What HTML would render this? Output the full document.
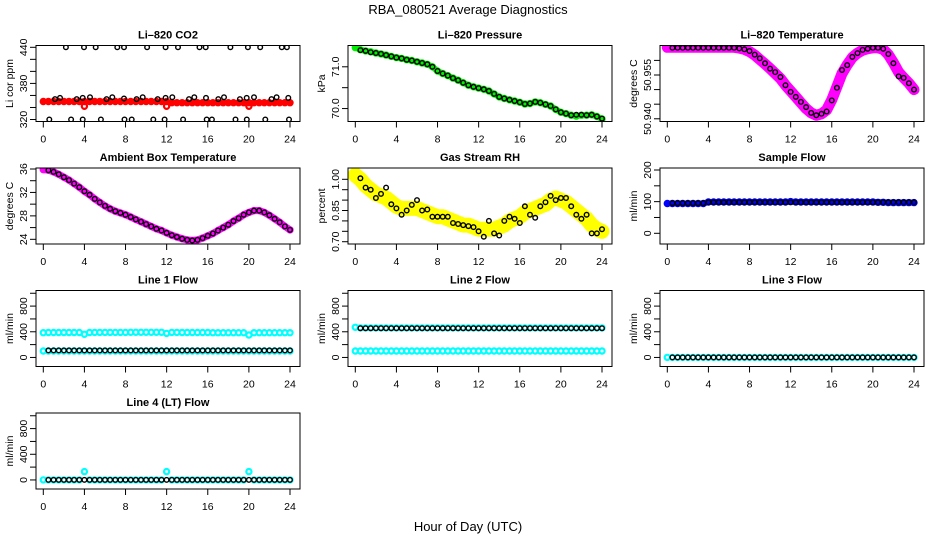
<!DOCTYPE html>
<html><head><meta charset="utf-8"><style>
html,body{margin:0;padding:0;background:#fff;}
svg{display:block;font-family:"Liberation Sans",Arial,sans-serif;}
</style></head><body>
<svg id="chart" width="936" height="540" viewBox="0 0 936 540" xmlns="http://www.w3.org/2000/svg">
<text x="468" y="14" font-size="13" text-anchor="middle">RBA_080521  Average Diagnostics</text>
<text x="468" y="531" font-size="13" text-anchor="middle">Hour of Day (UTC)</text>
</svg>
<script>
const blackHours = [0.5,1,1.5,2,2.5,3,3.5,4,4.5,5,5.5,6,6.5,7,7.5,8,8.5,9,9.5,10,10.5,11,11.5,12,12.5,13,13.5,14,14.5,15,15.5,16,16.5,17,17.5,18,18.5,19,19.5,20,20.5,21,21.5,22,22.5,23,23.5,24];
const colorHours = [0,0.5,1,1.5,2,2.5,3,3.5,4,4.5,5,5.5,6,6.5,7,7.5,8,8.5,9,9.5,10,10.5,11,11.5,12,12.5,13,13.5,14,14.5,15,15.5,16,16.5,17,17.5,18,18.5,19,19.5,20,20.5,21,21.5,22,22.5,23,23.5,24];
const xTicks = [0,4,8,12,16,20,24];

// CO2
const co2Red = [350,350,350,350,350,350,350,350,350,350,350,350,350,350,350,350,350,350,350,350,350,350,350,350,350,348,348,348,348,348,348,348,348,348,348,348,348,348,348,348,348,348,348,348,348,348,348,348,348];
const co2RedOutHours = [4,12,20];
const co2RedOutValues = [342,342,342];
const co2HighHours = [2.2,3.96,5.1,7.2,7.85,10.1,11.9,13.1,15.2,15.8,18.2,19.9,21.1,23.2,23.7];
const co2LowHours = [0.58,2.7,3.83,5.6,7.9,8.6,10.7,11.8,13.6,15.9,16.4,18.7,19.8,21.6,23.9];
const co2MidHours = [1.14,1.62,3.25,3.83,4.54,6.16,6.71,7.85,9.08,9.67,11.13,11.9,12.55,14.17,14.69,15.83,17.02,17.58,19.13,19.79,20.5,22.2,22.7,23.83];
const co2MidValues = [354,356,354,356,357,354,357,355,354,357,354,356,357,354,357,356,354,357,354,356,357,354,357,356];

// Pressure
const pressGreen = [71.46,71.41,71.38,71.36,71.33,71.31,71.28,71.25,71.22,71.20,71.17,71.15,71.12,71.09,71.06,71.00,70.90,70.84,70.79,70.73,70.68,70.62,70.56,70.52,70.49,70.46,70.42,70.35,70.28,70.24,70.21,70.18,70.15,70.11,70.12,70.16,70.14,70.10,70.06,69.98,69.91,69.88,69.84,69.82,69.84,69.84,69.85,69.81,69.75];
const pressBlack = [71.40,71.38,71.35,71.33,71.31,71.28,71.25,71.22,71.20,71.17,71.15,71.12,71.09,71.06,71.00,70.90,70.84,70.79,70.73,70.68,70.62,70.56,70.52,70.49,70.46,70.42,70.35,70.28,70.24,70.21,70.18,70.15,70.11,70.12,70.16,70.14,70.10,70.06,69.98,69.91,69.88,69.84,69.85,69.85,69.84,69.85,69.81,69.76];

// Li-820 temperature
const tempMag = [50.9645,50.9645,50.9645,50.9645,50.9645,50.9645,50.9645,50.9645,50.9645,50.9645,50.9645,50.9645,50.9645,50.9645,50.9642,50.9638,50.9630,50.9618,50.9603,50.9588,50.9572,50.9555,50.9538,50.9515,50.9495,50.9475,50.9455,50.9435,50.9420,50.9412,50.9417,50.9430,50.9465,50.9510,50.9555,50.9585,50.9610,50.9625,50.9635,50.9640,50.9643,50.9643,50.9638,50.9620,50.9592,50.9560,50.9540,50.9522,50.9500];
const tempBlack = [50.9643,50.9643,50.9643,50.9643,50.9643,50.9643,50.9643,50.9643,50.9643,50.9643,50.9643,50.9643,50.9643,50.9641,50.9638,50.9632,50.9620,50.9607,50.9590,50.9572,50.9560,50.9543,50.9515,50.9492,50.9475,50.9458,50.9440,50.9420,50.9412,50.9417,50.9425,50.9463,50.9506,50.9567,50.9584,50.9612,50.9625,50.9636,50.9640,50.9643,50.9643,50.9640,50.9622,50.9590,50.9545,50.9540,50.9522,50.9500];

// Ambient
const ambMag = [35.9,35.8,35.5,35.1,34.6,34.1,33.5,32.9,32.2,31.6,30.9,30.3,29.7,29.2,28.8,28.5,28.2,27.8,27.4,27.0,26.6,26.2,25.8,25.5,25.1,24.7,24.4,24.1,23.9,23.8,23.9,24.2,24.6,25.0,25.5,26.0,26.5,27.1,27.6,28.2,28.6,28.9,28.9,28.6,28.1,27.5,26.9,26.2,25.6];
const ambBlack = [35.8,35.5,35.1,34.6,34.1,33.5,32.9,32.2,31.6,30.9,30.3,29.7,29.2,28.8,28.5,28.2,27.8,27.4,27.0,26.6,26.2,25.8,25.5,25.1,24.7,24.4,24.1,23.9,23.8,23.9,24.2,24.6,25.0,25.5,26.0,26.5,27.1,27.6,28.2,28.6,28.9,28.9,28.6,28.1,27.5,26.9,26.2,25.6];

// RH
const rhYellow = [1.02,1.00,0.97,0.95,0.93,0.92,0.91,0.89,0.87,0.86,0.86,0.86,0.86,0.85,0.84,0.83,0.82,0.82,0.81,0.80,0.79,0.78,0.78,0.77,0.76,0.76,0.76,0.76,0.77,0.78,0.80,0.81,0.82,0.84,0.85,0.86,0.87,0.88,0.90,0.91,0.90,0.89,0.87,0.85,0.83,0.81,0.78,0.76,0.75];
const rhBlack = [1.005,0.96,0.95,0.91,0.93,0.96,0.88,0.86,0.83,0.85,0.877,0.90,0.85,0.855,0.82,0.82,0.82,0.82,0.79,0.785,0.78,0.775,0.77,0.75,0.724,0.80,0.74,0.73,0.80,0.82,0.81,0.79,0.87,0.83,0.815,0.87,0.89,0.92,0.90,0.91,0.91,0.87,0.83,0.81,0.83,0.74,0.74,0.76];

// Sample flow
const sampleBlue = [94,94,94,94,94,94,94,94,99,99,99,99,99,99,99,99,99,99,99,99,99,99,99,99,100,99,99,99,99,99,99,99,99,99,99,99,99,99,99,99,99,98,98,97,97,97,97,97,97];
const sampleBlack = [95,95,95,95,95,95,95,98,98,98,98,98,98,98,98,98,98,98,98,98,98,98,98,98,98,98,98,98,98,98,98,98,98,98,98,98,98,98,98,98,98,98,98,98,98,98,98,98];

// Line flows
const line1CyanHigh = [385,388,388,388,388,388,388,388,360,388,390,390,390,390,390,390,390,392,392,392,392,392,392,392,375,390,390,388,388,388,388,388,388,386,386,386,386,386,386,386,350,386,386,386,386,386,386,386,386];
const line1CyanLow = [100,100,100,100,100,100,100,100,100,100,100,100,100,100,100,100,100,100,100,100,100,100,100,100,100,100,100,100,100,100,100,100,100,100,100,100,100,100,100,100,100,100,100,100,100,100,100,100,100];
const line1Black = [110,110,110,110,110,110,110,110,110,110,110,110,110,110,110,110,110,110,110,110,110,110,110,110,110,110,110,110,110,110,110,110,110,110,110,110,110,110,110,110,110,110,110,110,110,110,110,110];
const line2CyanHigh = [470,460,460,460,460,460,460,460,460,460,460,460,460,460,460,460,460,460,460,460,460,460,460,460,460,460,460,460,460,460,460,460,460,460,460,460,460,460,460,460,460,460,460,460,460,460,460,460,460];
const line2CyanLow = [100,100,100,100,100,100,100,100,100,100,100,100,100,100,100,100,100,100,100,100,100,100,100,100,100,100,100,100,100,100,100,100,100,100,100,100,100,100,100,100,100,100,100,100,100,100,100,100,100];
const line2Black = [455,455,455,455,455,455,455,455,455,455,455,455,455,455,455,455,455,455,455,455,455,455,455,455,455,455,455,455,455,455,455,455,455,455,455,455,455,455,455,455,455,455,455,455,455,455,455,455];
const line3Cyan = [0,0,0,0,0,0,0,0,0,0,0,0,0,0,0,0,0,0,0,0,0,0,0,0,0,0,0,0,0,0,0,0,0,0,0,0,0,0,0,0,0,0,0,0,0,0,0,0,0];
const line3Black = [0,0,0,0,0,0,0,0,0,0,0,0,0,0,0,0,0,0,0,0,0,0,0,0,0,0,0,0,0,0,0,0,0,0,0,0,0,0,0,0,0,0,0,0,0,0,0,0];
const line4Cyan = [0,0,0,0,0,0,0,0,130,0,0,0,0,0,0,0,0,0,0,0,0,0,0,0,130,0,0,0,0,0,0,0,0,0,0,0,0,0,0,0,130,0,0,0,0,0,0,0,0];
const line4Black = [0,0,0,0,0,0,0,0,0,0,0,0,0,0,0,0,0,0,0,0,0,0,0,0,0,0,0,0,0,0,0,0,0,0,0,0,0,0,0,0,0,0,0,0,0,0,0,0];

const flowTicks = [0,200,400,600,800,1000];
const flowLabels = ["0","","400","","800",""];

const svg = document.getElementById('chart');
const NS = 'http://www.w3.org/2000/svg';
function mk(tag, attrs, parent) {
  const e = document.createElementNS(NS, tag);
  for (const k in attrs) e.setAttribute(k, attrs[k]);
  (parent || svg).appendChild(e);
  return e;
}
const rowTops = [45.5, 168, 290.5, 413];
const PH = 76, PW = 264;

const panels = [
  {name:'co2', title:'Li\u2013820 CO2', ylab:'Li cor ppm', r:0, c:0, dom:[316.7,443], ticks:[320,340,360,380,400,420,440], labels:["320","","","380","","","440"],
   series:[{h:colorHours, v:co2Red, col:'#ff0000', w:5},{h:co2RedOutHours, v:co2RedOutValues, col:'#ff0000', w:0},
           {h:co2HighHours, v:co2HighHours.map(()=>440), col:'#000', black:true},{h:co2LowHours, v:co2LowHours.map(()=>320), col:'#000', black:true},
           {h:co2MidHours, v:co2MidValues, col:'#000', black:true}]},
  {name:'pressure', title:'Li\u2013820 Pressure', ylab:'kPa', r:0, c:1, dom:[69.69,71.51], ticks:[70.0,70.5,71.0], labels:["70.0","","71.0"],
   series:[{h:colorHours, v:pressGreen, col:'#00ee00', w:6},{h:blackHours, v:pressBlack, col:'#000', black:true}]},
  {name:'li820-temperature', title:'Li\u2013820 Temperature', ylab:'degrees C', r:0, c:2, dom:[50.93907,50.9651], ticks:[50.940,50.945,50.950,50.955,50.960], labels:["50.940","","","50.955",""],
   series:[{h:colorHours, v:tempMag, col:'#ff00ff', w:11},{h:blackHours, v:tempBlack, col:'#000', black:true}]},
  {name:'ambient-temperature', title:'Ambient Box Temperature', ylab:'degrees C', r:1, c:0, dom:[23.2,36.17], ticks:[24,26,28,30,32,34,36], labels:["24","","28","","32","","36"],
   series:[{h:colorHours, v:ambMag, col:'#ff00ff', w:7},{h:blackHours, v:ambBlack, col:'#000', black:true}]},
  {name:'gas-stream-rh', title:'Gas Stream RH', ylab:'percent', r:1, c:1, dom:[0.689,1.0543], ticks:[0.70,0.75,0.80,0.85,0.90,0.95,1.00], labels:["0.70","","","0.85","","","1.00"],
   series:[{h:colorHours, v:rhYellow, col:'#ffff00', w:15},{h:blackHours, v:rhBlack, col:'#000', black:true}]},
  {name:'sample-flow', title:'Sample Flow', ylab:'ml/min', r:1, c:2, dom:[-33.8,206.3], ticks:[0,50,100,150,200], labels:["0","","100","","200"],
   series:[{h:colorHours, v:sampleBlue, col:'#0000ff', w:6},{h:blackHours, v:sampleBlack, col:'#000', black:true}]},
  {name:'line1-flow', title:'Line 1 Flow', ylab:'ml/min', r:2, c:0, dom:[-141,1043], ticks:flowTicks, labels:flowLabels,
   series:[{h:colorHours, v:line1CyanHigh, col:'#00ffff', w:0},{h:colorHours, v:line1CyanLow, col:'#00ffff', w:0},{h:blackHours, v:line1Black, col:'#000', black:true}]},
  {name:'line2-flow', title:'Line 2 Flow', ylab:'ml/min', r:2, c:1, dom:[-141,1043], ticks:flowTicks, labels:flowLabels,
   series:[{h:colorHours, v:line2CyanHigh, col:'#00ffff', w:0},{h:colorHours, v:line2CyanLow, col:'#00ffff', w:0},{h:blackHours, v:line2Black, col:'#000', black:true}]},
  {name:'line3-flow', title:'Line 3 Flow', ylab:'ml/min', r:2, c:2, dom:[-141,1043], ticks:flowTicks, labels:flowLabels,
   series:[{h:colorHours, v:line3Cyan, col:'#00ffff', w:0},{h:blackHours, v:line3Black, col:'#000', black:true}]},
  {name:'line4-flow', title:'Line 4 (LT) Flow', ylab:'ml/min', r:3, c:0, dom:[-141,1043], ticks:flowTicks, labels:flowLabels,
   series:[{h:colorHours, v:line4Cyan, col:'#00ffff', w:0},{h:blackHours, v:line4Black, col:'#000', black:true}]},
];

panels.forEach(p => {
  const L = 36 + p.c * 312, T = rowTops[p.r], B = T + PH, R = L + PW;
  const xs = h => L + 7.3 + h * (246.7 / 24);
  const ys = v => B - (v - p.dom[0]) / (p.dom[1] - p.dom[0]) * PH;
  const g = mk('g', {});
  
  
  const clipId = 'clip-' + p.name;
  const cp = mk('clipPath', {id: clipId}, g);
  mk('rect', {x:L, y:T, width:PW, height:PH}, cp);
  const data = mk('g', {'clip-path':'url(#' + clipId + ')'}, g);
  p.series.forEach((s, si) => {
    const sg = mk('g', {}, data);
    
    
    if (!s.black && s.w > 0) {
      const pts = s.h.map((h, i) => xs(h).toFixed(1) + ',' + ys(s.v[i]).toFixed(1)).join(' ');
      mk('polyline', {points: pts, fill:'none', stroke:s.col, 'stroke-width':s.w, 'stroke-linejoin':'round', 'stroke-linecap':'round'}, sg);
    }
    s.h.forEach((h, i) => {
      const c = mk('circle', {cx:xs(h).toFixed(1), cy:ys(s.v[i]).toFixed(1), r: s.black ? 2.3 : 2.6, fill:'none', stroke:s.col, 'stroke-width': s.black ? 1.4 : 2.2}, sg);
      
      
    });
  });
  const fr = mk('rect', {x:L, y:T, width:PW, height:PH, fill:'none', stroke:'#000', 'stroke-width':1}, g);
  
  
  const tt = mk('text', {x:(L + R) / 2, y:T - 7, 'font-size':11, 'font-weight':'bold', 'text-anchor':'middle'}, g);
  tt.textContent = p.title;
  
  
  const yl = mk('text', {x:0, y:0, 'font-size':10.5, 'text-anchor':'middle', transform:'translate(' + (L - 23) + ',' + ((T + B) / 2) + ') rotate(-90)'}, g);
  yl.textContent = p.ylab;
  
  
  xTicks.forEach(t => {
    mk('line', {x1:xs(t), x2:xs(t), y1:B, y2:B + 6, stroke:'#000'}, g);
    const lb = mk('text', {x:xs(t), y:B + 21, 'font-size':10.5, 'text-anchor':'middle'}, g);
    lb.textContent = t;
    
    
  });
  p.ticks.forEach((t, i) => {
    const y = ys(t);
    mk('line', {x1:L - 6, x2:L, y1:y, y2:y, stroke:'#000'}, g);
    if (p.labels[i]) {
      const lb = mk('text', {x:0, y:0, 'font-size':10.5, 'text-anchor':'middle', transform:'translate(' + (L - 9) + ',' + y + ') rotate(-90)'}, g);
      lb.textContent = p.labels[i];
      
      
    }
  });
});
</script>
</body></html>
